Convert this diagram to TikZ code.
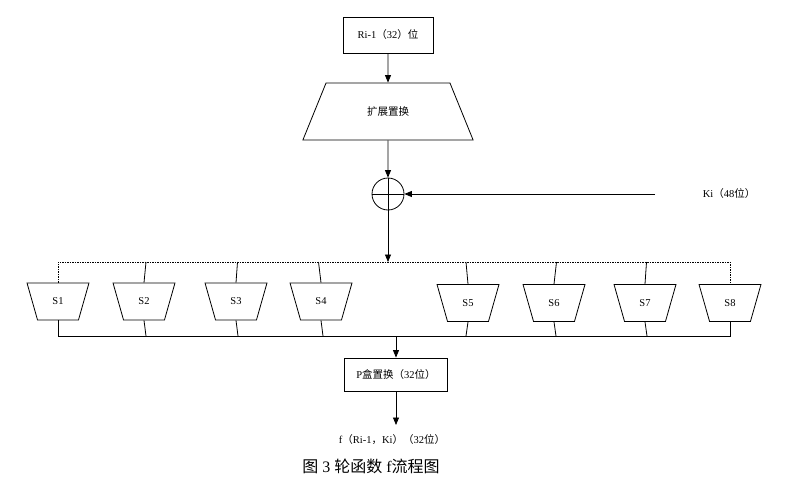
\documentclass[tikz,border=0pt]{standalone}
\usepackage{fontspec}
\setmainfont{Liberation Serif}
\newfontfamily\cjk{Noto Sans CJK SC}
\usetikzlibrary{positioning,arrows.meta,shapes.geometric}

\begin{document}
\begin{tikzpicture}[x=1pt, y=-1pt,
  font=\fontsize{10.5}{12}\selectfont, line width=0.8pt,
  box/.style={draw, inner sep=0pt, align=center},
  sbox/.style={draw, trapezium, trapezium left angle=112, trapezium right angle=112,
    trapezium stretches=true, minimum width=62pt, minimum height=37pt, inner sep=0pt},
  arr/.style={-{Triangle[length=7.5pt,width=6pt]}},
  dotline/.style={dash pattern=on 1.5pt off 1pt}]
  \useasboundingbox (0,0) rectangle (801,479);
  \node[box, minimum width=90pt, minimum height=36pt] (ri) at (388,35) {Ri-1{\cjk（}32{\cjk）位}};
  \node[draw, trapezium, trapezium angle=61, trapezium stretches=true,
    minimum width=171pt, minimum height=57pt] (ep) at (388,111.5) {\cjk 扩展置换};
  \node[draw, circle, minimum size=32pt, inner sep=0pt] (xor) at (388,194) {};
  \draw (xor.north) -- (xor.south) (xor.west) -- (xor.east);
  \node (ki) at (729,194) {Ki{\cjk（}48{\cjk 位）}};
  \coordinate (kin) at (655,194);
  \coordinate (split) at (388,262);
  \coordinate (merge) at (396,336);
  \coordinate (out) at (396,425);
  \draw[arr] (ri) -- (ep);
  \draw[arr] (ep) -- (xor);
  \draw[arr] (kin) -- (xor.east);
  \draw[arr] (xor) -- (split);
  % S boxes
  \foreach \i/\x/\y in {1/58/301.5, 2/144/301.5, 3/236/301.5, 4/321/301.5,
                        5/468/303, 6/554/303, 7/645/303, 8/730/303}
    \node[sbox] (s\i) at (\x,\y) {S\i};
  \draw[dotline] (s1.north) -- (s1.north |- split) -- (s8.north |- split) -- (s8.north);
  \draw (s1.south) -- (s1.south |- merge) -- (s8.south |- merge) -- (s8.south);
  \foreach \i/\d in {2/2, 3/1.5, 4/-2.5, 5/-2, 6/2.5, 7/1.5}
    \draw (s\i.north |- split) ++(\d,0) -- (s\i.north);
  \foreach \i/\d in {2/2, 3/2, 4/2, 5/-2, 6/2, 7/2}
    \draw (s\i.south |- merge) ++(\d,0) -- (s\i.south);
  \node[box, minimum width=103pt, minimum height=33pt] (p) at (396,374.5) {P{\cjk 盒置换（}32{\cjk 位）}};
  \draw[arr] (merge) -- (p);
  \draw[arr] (p) -- (out);
  \node (res) at (392,440) {f{\cjk（}Ri-1{\cjk，}Ki{\cjk）（}32{\cjk 位）}};
  \node[font=\fontsize{16}{18}\selectfont] (cap) at (371,466) {{\cjk 图} 3 {\cjk 轮函数} f{\cjk 流程图}};
\end{tikzpicture}
\end{document}
